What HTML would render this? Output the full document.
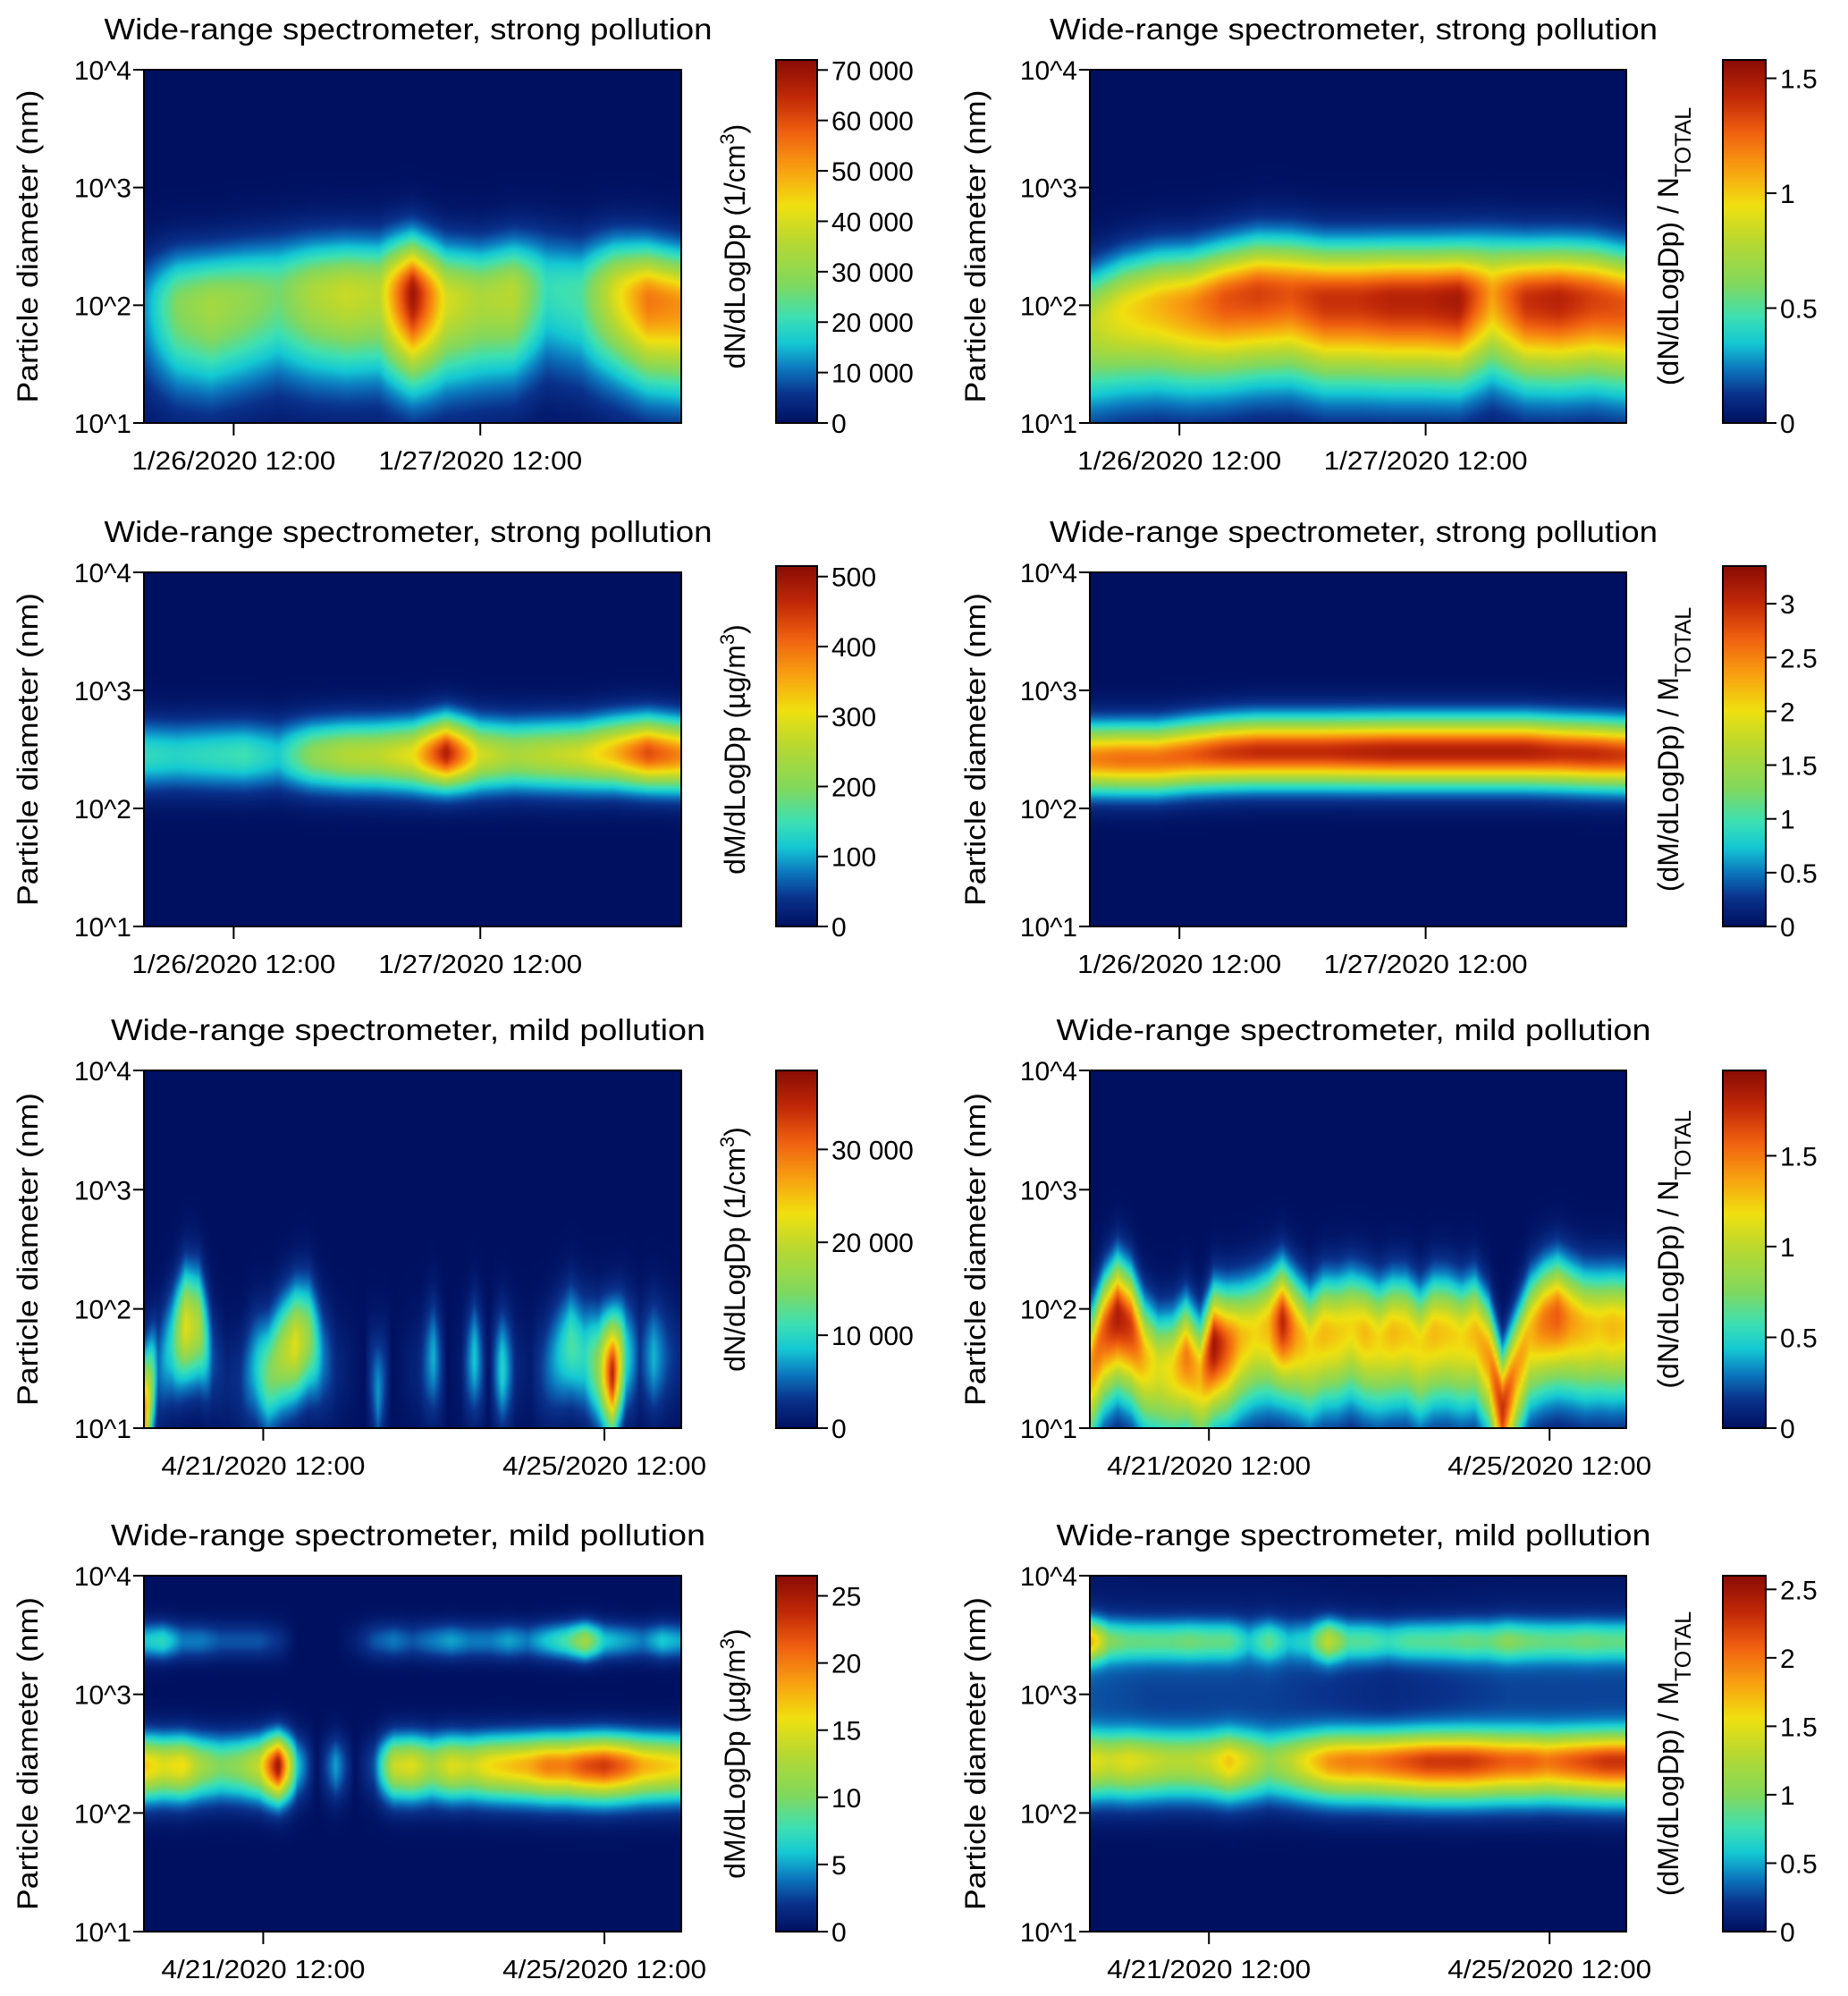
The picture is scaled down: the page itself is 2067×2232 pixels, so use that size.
<!DOCTYPE html>
<html><head><meta charset="utf-8">
<style>
html,body{margin:0;padding:0;background:#fff;}
#wrap{position:relative;width:2067px;height:2232px;overflow:hidden;}
canvas{position:absolute;}
svg{position:absolute;left:0;top:0;}
text{font-family:"Liberation Sans",sans-serif;fill:#000;}
</style></head>
<body>
<div id="wrap">
<svg id="svg" width="2067" height="2232"></svg>
</div>
<script>
// ---------- DATA ----------
const p1Vals=[12,28,33,30,26,34,38,36,70,40,34,36,20,22,40,55,52];
const p1Mode=[2.0,2.0,2.0,2.05,2.1,2.1,2.1,2.1,2.1,2.05,2.05,2.1,2.15,2.1,2.1,2.05,2.0];
const p1Ticks=[0,10000,20000,30000,40000,50000,60000,70000];
const p1TickLabels=["0","10 000","20 000","30 000","40 000","50 000","60 000","70 000"];

const p2Vals=[0.8,0.95,1.05,1.15,1.3,1.35,1.3,1.4,1.4,1.45,1.45,1.5,1.1,1.4,1.45,1.35,1.3];
const p2Mode=[1.85,1.95,2.0,2.0,2.05,2.1,2.1,2.05,2.05,2.05,2.05,2.05,2.1,2.05,2.05,2.05,2.0];
const p2Ticks=[0,0.5,1,1.5];
const p2TickLabels=["0","0.5","1","1.5"];

const p3Vals=[140,130,140,150,120,210,250,260,300,480,280,240,260,280,340,430,380];
const p3Mode=[2.45,2.45,2.45,2.45,2.45,2.45,2.45,2.45,2.45,2.47,2.45,2.45,2.45,2.45,2.47,2.47,2.45];
const p3Ticks=[0,100,200,300,400,500];
const p3TickLabels=["0","100","200","300","400","500"];

const p4Vals=[2.5,2.6,2.6,2.7,2.9,3.0,3.0,3.0,3.05,3.1,3.1,3.1,3.1,3.1,3.0,3.0,2.9];
const p4Mode=[2.42,2.42,2.42,2.45,2.47,2.48,2.48,2.48,2.48,2.48,2.48,2.48,2.48,2.48,2.47,2.46,2.45];
const p4Ticks=[0,0.5,1,1.5,2,2.5,3];
const p4TickLabels=["0","0.5","1","1.5","2","2.5","3"];

const p5Vals=[30,5,10,22,18,4,2,3,8,14,18,22,16,6,2,1,0,7,0,1,2,8,0,1,9,0,10,2,1,4,8,12,10,16,36,10,3,8,4,2];
const p5Mode=[1.1,1.5,1.7,1.85,1.85,1.6,1.4,1.4,1.5,1.45,1.6,1.7,1.75,1.6,1.5,1.5,1.5,1.3,1.5,1.5,1.5,1.6,1.5,1.5,1.6,1.5,1.5,1.5,1.5,1.5,1.6,1.7,1.6,1.5,1.45,1.6,1.6,1.6,1.6,1.6];
const p5Ticks=[0,10000,20000,30000];
const p5TickLabels=["0","10 000","20 000","30 000"];

const p6Vals=[1.4,1.6,1.85,1.7,1.3,1.1,1.2,1.5,1.3,1.9,1.6,1.3,1.2,1.3,1.8,1.4,1.2,1.3,1.25,1.2,1.3,1.2,1.3,1.25,1.2,1.3,1.25,1.2,1.3,1.4,1.75,1.4,1.3,1.5,1.6,1.4,1.3,1.25,1.3,1.25];
const p6Mode=[1.5,1.8,1.95,1.85,1.6,1.5,1.5,1.6,1.45,1.7,1.7,1.75,1.8,1.85,1.9,1.8,1.7,1.8,1.8,1.85,1.8,1.75,1.8,1.8,1.7,1.8,1.8,1.75,1.8,1.6,1.15,1.5,1.8,1.9,1.95,1.9,1.85,1.85,1.85,1.85];
const p6Ticks=[0,0.5,1,1.5];
const p6TickLabels=["0","0.5","1","1.5"];

const p7Fine=[17,15,16,12,10,11,14,26,6,0,5,0,3,14,15,12,15,14,16,17,18,20,20,22,23,21,18,17,16];
const p7Coarse=[6,7,4,4,3,3,3,2,0,0,0,1,3,4,3,4,5,4,4,5,4,6,8,12,6,5,4,6,5];
const p7Ticks=[0,5,10,15,20,25];
const p7TickLabels=["0","5","10","15","20","25"];

const p8Fine=[1.4,1.3,1.4,1.3,1.2,1.2,1.3,1.6,1.3,1.0,1.2,1.5,1.8,1.9,1.9,2.0,2.1,2.2,2.2,2.2,2.1,2.0,2.0,1.9,2.0,2.1,2.2,2.2];
const p8Coarse=[1.6,0.8,0.7,0.7,0.7,0.75,0.7,0.7,0.4,0.7,0.4,0.5,1.2,0.7,0.7,0.6,0.7,0.7,0.7,0.75,0.7,0.85,0.75,0.7,0.7,0.75,0.7,0.7];
const p8Floor=[0.3,0.25,0.25,0.25,0.2,0.15,0.2,0.25,0.25,0.25];
const p8Ticks=[0,0.5,1,1.5,2,2.5];
const p8TickLabels=["0","0.5","1","1.5","2","2.5"];

const yTickExp=[1,2,3,4];
const strongXLabels=["1/26/2020 12:00","1/27/2020 12:00"];
const strongXPos=[0.167,0.626];
const mildXLabels=["4/21/2020 12:00","4/25/2020 12:00"];
const mildXPos=[0.222,0.857];

// ---------- helpers ----------
function interp(arr,t){const n=arr.length;if(n===1)return arr[0];const f=t*(n-1);const i=Math.min(n-2,Math.floor(f));const r=f-i;return arr[i]*(1-r)+arr[i+1]*r;}
const stops=[[0,[0,16,96]],[0.08,[10,50,140]],[0.15,[12,120,190]],[0.22,[20,200,212]],[0.29,[60,224,180]],[0.38,[128,216,96]],[0.5,[184,216,48]],[0.6,[240,224,16]],[0.7,[248,160,16]],[0.8,[240,96,16]],[0.9,[192,40,8]],[1,[138,12,4]]];
function cmap(v){v=Math.max(0,Math.min(1,v));for(let i=1;i<stops.length;i++){if(v<=stops[i][0]){const a=stops[i-1],b=stops[i];const r=(v-a[0])/(b[0]-a[0]);return [0,1,2].map(k=>Math.round(a[1][k]+(b[1][k]-a[1][k])*r));}}return stops[stops.length-1][1];}
function gauss(x,m,s){return Math.exp(-0.5*((x-m)/s)*((x-m)/s));}
function agauss(x,m,sUp,sDn){const s=x>m?sUp:sDn;return Math.exp(-0.5*((x-m)/s)*((x-m)/s));}

const rows=[{top:78,bot:473,cbTop:67},{top:640,bot:1036,cbTop:633},{top:1197,bot:1597,cbTop:1197},{top:1762,bot:2160,cbTop:1762}];
const cols=[{l:161,r:762,cbX:868,cbW:46,ylab:31,cbLab:822,title:463},{l:1219,r:1819,cbX:1927,cbW:48,ylab:1091,cbLab:1866,title:1522}];

const panels=[
 {r:0,c:0,title:"Wide-range spectrometer, strong pollution",max:72000,ticks:p1Ticks,tl:p1TickLabels,lab:["dN/dLogDp (1/cm","3",")"],kind:"sup",xl:strongXLabels,xp:strongXPos,
  f:(t,y)=>interp(p1Vals,t)*1000*agauss(y,interp(p1Mode,t),0.3,0.5)},
 {r:0,c:1,title:"Wide-range spectrometer, strong pollution",max:1.58,ticks:p2Ticks,tl:p2TickLabels,lab:["(dN/dLogDp) / N","TOTAL",""],kind:"sub",xl:strongXLabels,xp:strongXPos,
  f:(t,y)=>interp(p2Vals,t)*agauss(y,interp(p2Mode,t),0.3,0.48)},
 {r:1,c:0,title:"Wide-range spectrometer, strong pollution",max:515,ticks:p3Ticks,tl:p3TickLabels,lab:["dM/dLogDp (µg/m","3",")"],kind:"sup",xl:strongXLabels,xp:strongXPos,
  f:(t,y)=>interp(p3Vals,t)*gauss(y,interp(p3Mode,t),0.2)},
 {r:1,c:1,title:"Wide-range spectrometer, strong pollution",max:3.35,ticks:p4Ticks,tl:p4TickLabels,lab:["(dM/dLogDp) / M","TOTAL",""],kind:"sub",xl:strongXLabels,xp:strongXPos,
  f:(t,y)=>interp(p4Vals,t)*gauss(y,interp(p4Mode,t),0.19)},
 {r:2,c:0,title:"Wide-range spectrometer, mild pollution",max:38500,ticks:p5Ticks,tl:p5TickLabels,lab:["dN/dLogDp (1/cm","3",")"],kind:"sup",xl:mildXLabels,xp:mildXPos,
  f:(t,y)=>interp(p5Vals,t)*1000*gauss(y,interp(p5Mode,t),0.32)},
 {r:2,c:1,title:"Wide-range spectrometer, mild pollution",max:1.97,ticks:p6Ticks,tl:p6TickLabels,lab:["(dN/dLogDp) / N","TOTAL",""],kind:"sub",xl:mildXLabels,xp:mildXPos,
  f:(t,y)=>interp(p6Vals,t)*agauss(y,interp(p6Mode,t),0.3,0.42)},
 {r:3,c:0,title:"Wide-range spectrometer, mild pollution",max:26.5,ticks:p7Ticks,tl:p7TickLabels,lab:["dM/dLogDp (µg/m","3",")"],kind:"sup",xl:mildXLabels,xp:mildXPos,
  f:(t,y)=>interp(p7Fine,t)*agauss(y,2.4,0.17,0.2)+interp(p7Coarse,t)*gauss(y,3.45,0.11)},
 {r:3,c:1,title:"Wide-range spectrometer, mild pollution",max:2.6,ticks:p8Ticks,tl:p8TickLabels,lab:["(dM/dLogDp) / M","TOTAL",""],kind:"sub",xl:mildXLabels,xp:mildXPos,
  f:(t,y)=>interp(p8Fine,t)*agauss(y,2.43,0.17,0.22)+interp(p8Coarse,t)*gauss(y,3.45,0.12)+interp(p8Floor,t)*gauss(y,3.1,0.45)}
];

const NS="http://www.w3.org/2000/svg";
const svg=document.getElementById('svg');
const wrap=document.getElementById('wrap');
function mk(tag,attrs,parent){const e=document.createElementNS(NS,tag);for(const k in attrs)e.setAttribute(k,attrs[k]);(parent||svg).appendChild(e);return e;}

panels.forEach((p,pi)=>{
  const R=rows[p.r],C=cols[p.c];
  const W=C.r-C.l,H=R.bot-R.top;
  const g=mk('g',{});
  
  
  const cv=document.createElement('canvas');
  
  
  const cw=240,ch=200;cv.width=cw;cv.height=ch;
  cv.style.left=C.l+'px';cv.style.top=R.top+'px';cv.style.width=W+'px';cv.style.height=H+'px';
  const ctx=cv.getContext('2d');const img=ctx.createImageData(cw,ch);
  for(let j=0;j<ch;j++){const y=4-3*(j+0.5)/ch;for(let i=0;i<cw;i++){const t=(i+0.5)/cw;const c=cmap(p.f(t,y)/p.max);const o=(j*cw+i)*4;img.data[o]=c[0];img.data[o+1]=c[1];img.data[o+2]=c[2];img.data[o+3]=255;}}
  ctx.putImageData(img,0,0);
  wrap.insertBefore(cv,svg);
  const cb=document.createElement('canvas');
  
  
  cb.width=1;cb.height=200;const cbH=R.bot-R.cbTop;
  cb.style.left=C.cbX+'px';cb.style.top=R.cbTop+'px';cb.style.width=C.cbW+'px';cb.style.height=cbH+'px';
  const bctx=cb.getContext('2d');for(let j=0;j<200;j++){const c=cmap(1-(j+0.5)/200);bctx.fillStyle='rgb('+c.join(',')+')';bctx.fillRect(0,j,1,1);}
  wrap.insertBefore(cb,svg);
  const fr=mk('rect',{x:C.l,y:R.top,width:W,height:H,fill:'none',stroke:'#000','stroke-width':2},g);
  
  
  const cbf=mk('rect',{x:C.cbX,y:R.cbTop,width:C.cbW,height:cbH,fill:'none',stroke:'#000','stroke-width':2},g);
  
  
  const tt=mk('text',{x:(C.l+C.r)/2-5,y:R.top-34,'text-anchor':'middle','font-size':33,textLength:(p.r<2?680:665),lengthAdjust:'spacingAndGlyphs'},g);
  tt.textContent=p.title;
  
  
  yTickExp.forEach(e=>{
    const y=R.bot-(e-1)/3*H;
    mk('line',{x1:C.l-12,x2:C.l,y1:y,y2:y,stroke:'#000','stroke-width':2},g);
    const t=mk('text',{x:C.l-14,y:y+11,'text-anchor':'end','font-size':30},g);
    t.textContent='10^'+e;
    
    
  });
  const yl=mk('text',{x:0,y:0,'text-anchor':'middle','font-size':32,textLength:350,lengthAdjust:'spacingAndGlyphs',transform:'translate('+(C.ylab+11)+','+((R.top+R.bot)/2)+') rotate(-90)'},g);
  yl.textContent='Particle diameter (nm)';
  
  
  p.xl.forEach((lab,k)=>{
    const x=C.l+p.xp[k]*W;
    mk('line',{x1:x,x2:x,y1:R.bot,y2:R.bot+14,stroke:'#000','stroke-width':2},g);
    const t=mk('text',{x:x,y:R.bot+52,'text-anchor':'middle','font-size':29,textLength:228,lengthAdjust:'spacingAndGlyphs'},g);
    t.textContent=lab;
    
    
  });
  p.ticks.forEach((v,k)=>{
    const y=R.bot-v/p.max*cbH;
    mk('line',{x1:C.cbX+C.cbW,x2:C.cbX+C.cbW+12,y1:y,y2:y,stroke:'#000','stroke-width':2},g);
    const t=mk('text',{x:C.cbX+C.cbW+16,y:y+11,'font-size':30},g);
    t.textContent=p.tl[k];
    
    
  });
  const cl=mk('text',{x:0,y:0,'text-anchor':'middle','font-size':32,transform:'translate('+(C.cbLab+11)+','+((R.top+R.bot)/2)+') rotate(-90)'},g);
  const s1=mk('tspan',{},cl);s1.textContent=p.lab[0];
  const s2=mk('tspan',p.kind==='sup'?{'baseline-shift':'super','font-size':22}:{'baseline-shift':'sub','font-size':25},cl);s2.textContent=p.lab[1];
  if(p.lab[2]){const s3=mk('tspan',{},cl);s3.textContent=p.lab[2];}
  
  
});
</script>
</body></html>
